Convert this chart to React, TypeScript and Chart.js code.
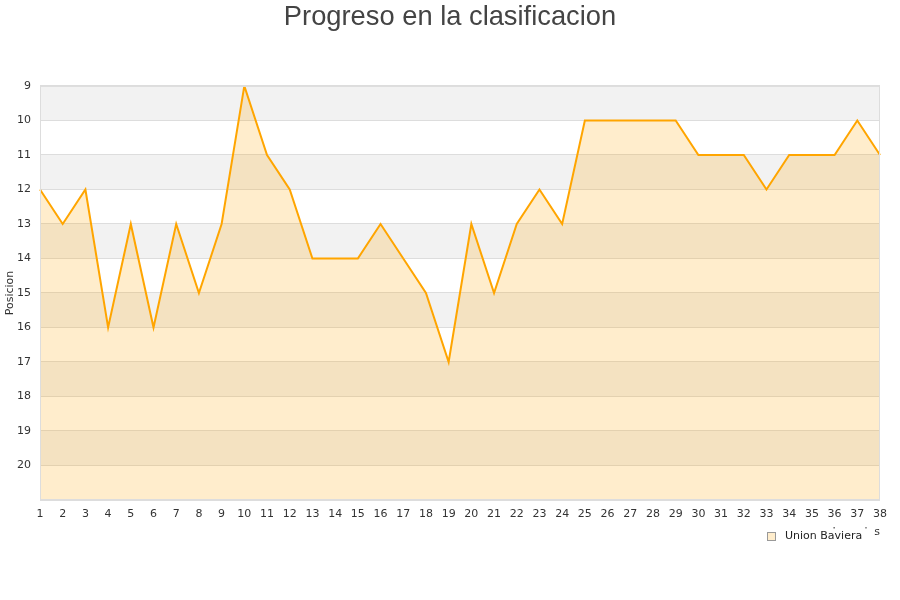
import React, { useEffect, useRef } from "react";
import { Chart, registerables } from "chart.js";

Chart.register(...registerables);

const TITLE = "Progreso en la clasificacion";
const SERIES_LABEL = "Union Baviera";
const X_TITLE = "Jornadas";
const Y_TITLE = "Posicion";
const jornadas = Array.from({ length: 38 }, (_, i) => String(i + 1));
const posiciones = [
  12, 13, 12, 16, 13, 16, 13, 15, 13, 9, 11, 12, 14, 14, 14, 13, 14, 15, 17, 13,
  15, 13, 12, 13, 10, 10, 10, 10, 10, 11, 11, 11, 12, 11, 11, 11, 10, 11,
];
const Y_MIN = 9;
const Y_MAX = 21;

const bandsPlugin = {
  id: "bands",
  beforeDraw(chart: any) {
    const { ctx, chartArea, scales } = chart;
    const y = scales.y;
    ctx.save();
    ctx.fillStyle = "#ffffff";
    ctx.fillRect(chartArea.left, chartArea.top, chartArea.right - chartArea.left, chartArea.bottom - chartArea.top);
    ctx.fillStyle = "#f2f2f2";
    for (let v = Y_MIN; v < Y_MAX; v += 2) {
      const a = y.getPixelForValue(v);
      const b = y.getPixelForValue(v + 1);
      ctx.fillRect(chartArea.left, Math.min(a, b), chartArea.right - chartArea.left, Math.abs(b - a));
    }
    ctx.restore();
  },
  afterDatasetsDraw(chart: any) {
    const { ctx, chartArea } = chart;
    ctx.save();
    ctx.strokeStyle = "#dddddd";
    ctx.lineWidth = 1;
    ctx.strokeRect(chartArea.left + 0.5, chartArea.top + 0.5, chartArea.right - chartArea.left - 1, chartArea.bottom - chartArea.top - 1);
    ctx.restore();
  },
};

const legendPlugin = {
  id: "customLegend",
  afterDraw(chart: any) {
    const { ctx } = chart;
    const label = chart.data.datasets[0].label;
    ctx.save();
    ctx.fillStyle = "#ffffff";
    ctx.fillRect(760, 528.5, 114, 20);
    ctx.fillStyle = "#ffedcc";
    ctx.fillRect(767.5, 532.5, 8, 8);
    ctx.strokeStyle = "#999999";
    ctx.lineWidth = 1;
    ctx.strokeRect(767.5, 532.5, 8, 8);
    ctx.font = "11px 'DejaVu Sans'";
    ctx.fillStyle = "#222222";
    ctx.textBaseline = "middle";
    ctx.textAlign = "left";
    ctx.fillText(label, 785, 536.5);
    ctx.restore();
  },
};

export default function App() {
  const ref = useRef<HTMLCanvasElement>(null);
  useEffect(() => {
    if (!ref.current) return;
    const chart = new Chart(ref.current, {
      type: "line",
      data: {
        labels: jornadas,
        datasets: [
          {
            label: SERIES_LABEL,
            data: posiciones,
            borderColor: "#ffa500",
            backgroundColor: "rgba(255,165,0,0.2)",
            borderWidth: 2,
            pointRadius: 0,
            tension: 0,
            fill: "start",
          },
        ],
      },
      options: {
        animation: false,
        responsive: false,
        layout: { padding: { left: 0, right: 0, top: 0, bottom: 60 } },
        plugins: {
          legend: { display: false },
          tooltip: { enabled: false },
          title: {
            display: true,
            text: TITLE,
            color: "#444444",
            font: { family: "'Liberation Sans', Arial, sans-serif", size: 27.3, weight: "normal" },
            padding: { top: 1, bottom: 52.2 },
          },
        },
        scales: {
          x: {
            offset: false,
            grid: { display: false, drawTicks: false },
            border: { display: false },
            afterFit: (s: any) => {
              s.height = 40;
              s.paddingRight = 20;
            },
            ticks: {
              color: "#333333",
              font: { family: "'DejaVu Sans'", size: 11 },
              padding: 8,
              maxRotation: 0,
              autoSkip: false,
            },
            title: {
              display: true,
              text: X_TITLE,
              align: "end",
              color: "#333333",
              font: { family: "'DejaVu Sans'", size: 11 },
              padding: { top: 0, bottom: 1.2 },
            },
          },
          y: {
            reverse: true,
            min: Y_MIN,
            max: Y_MAX,
            grid: { color: "#dddddd", drawTicks: false },
            border: { display: false },
            afterFit: (s: any) => {
              s.width = 40;
            },
            ticks: {
              stepSize: 1,
              color: "#333333",
              font: { family: "'DejaVu Sans'", size: 11 },
              padding: 9,
              callback: (v: any) => (v === Y_MAX ? "" : String(v)),
            },
            title: {
              display: true,
              text: Y_TITLE,
              color: "#333333",
              font: { family: "'DejaVu Sans'", size: 11 },
              padding: { top: 4, bottom: 0 },
            },
          },
        },
      },
      plugins: [bandsPlugin, legendPlugin],
    });
    return () => chart.destroy();
  }, []);
  return (
    <div style={{ position: "fixed", left: 0, top: 0, width: 900, height: 600, background: "#fff" }}>
      <canvas ref={ref} width={900} height={600} style={{ width: 900, height: 600 }} />
    </div>
  );
}
